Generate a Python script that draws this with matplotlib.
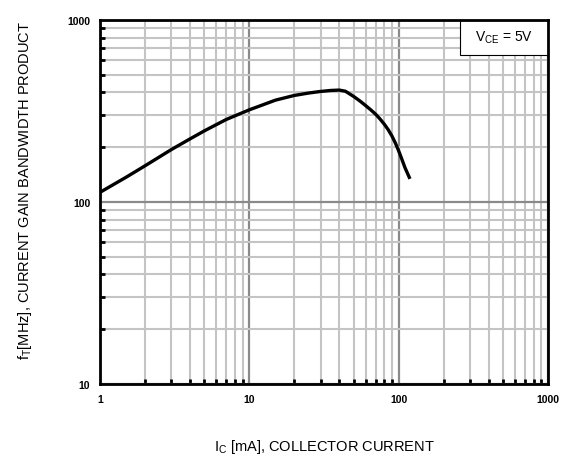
import numpy as np
import matplotlib
matplotlib.use("Agg")
import matplotlib.pyplot as plt
from matplotlib.patches import Rectangle
from matplotlib.ticker import LogLocator, NullFormatter, FixedLocator, FixedFormatter

plt.rcParams['font.family'] = ['Liberation Sans', 'DejaVu Sans']
plt.rcParams['mathtext.fontset'] = 'custom'
plt.rcParams['mathtext.rm'] = 'Liberation Sans'
plt.rcParams['mathtext.it'] = 'Liberation Sans'

# collector current [mA] vs fT [MHz]
ic = [1, 1.5, 2, 3, 4, 5, 7, 10, 15, 20, 25, 30, 35, 40, 44,
      50, 55, 60, 65, 70, 75, 80, 85, 90, 95, 100, 105, 110, 119]
ft = [113, 137, 158, 194, 222, 246, 284, 321, 363, 385, 397, 405, 410, 412, 406,
      380, 359, 339, 321, 304, 286, 268, 250, 231, 211, 191, 172, 155, 134]

xticks = [1, 10, 100, 1000]
yticks = [10, 100, 1000]

fig = plt.figure(figsize=(5.68, 4.6), dpi=100)
ax = fig.add_axes([100 / 568, 1 - 385 / 460, 448 / 568, 364 / 460])

ax.set_xscale('log')
ax.set_yscale('log')
ax.set_xlim(1, 1000)
ax.set_ylim(10, 1000)

ax.plot(ic, ft, color='black', lw=2.4, solid_capstyle='butt',
        solid_joinstyle='round', zorder=4)

ax.xaxis.set_major_locator(FixedLocator(xticks))
ax.yaxis.set_major_locator(FixedLocator(yticks))
ax.xaxis.set_major_formatter(FixedFormatter([str(t) for t in xticks]))
ax.yaxis.set_major_formatter(FixedFormatter([str(t) for t in yticks]))
ax.xaxis.set_minor_locator(LogLocator(base=10, subs=np.arange(2, 10)))
ax.yaxis.set_minor_locator(LogLocator(base=10, subs=np.arange(2, 10)))
ax.xaxis.set_minor_formatter(NullFormatter())
ax.yaxis.set_minor_formatter(NullFormatter())

ax.grid(which='major', color='#8a8a8a', lw=1.6)
ax.grid(which='minor', color='#c4c4c4', lw=1.5)
ax.set_axisbelow(True)

ax.tick_params(which='both', direction='in', color='black', width=2)
ax.tick_params(which='major', length=0, pad=7, labelsize=7.5)
ax.tick_params(which='minor', length=3.5)
for lab in ax.get_xticklabels() + ax.get_yticklabels():
    lab.set_fontweight('bold')

for s in ax.spines.values():
    s.set_linewidth(2)
    s.set_color('black')
    s.set_zorder(6)

# condition box in the upper right corner
ax.add_patch(Rectangle((0.804, 0.905), 0.196, 0.095, transform=ax.transAxes,
                       facecolor='white', edgecolor='black', lw=0.8, zorder=5))
ax.text(0.902, 0.953, r'V$_{\mathrm{CE}}$ = 5V', transform=ax.transAxes,
        ha='center', va='center', fontsize=10, zorder=6)

fig.text(324 / 568, 1 - 447 / 460, r'I$_{\mathrm{C}}$ [mA], COLLECTOR CURRENT',
         ha='center', va='center', fontsize=10.5)
fig.text(25 / 568, 1 - 190 / 460, r'f$_{\mathrm{T}}$[MHz], CURRENT GAIN BANDWIDTH PRODUCT',
         ha='center', va='center', rotation=90, fontsize=10.5)

fig.savefig('out.png', dpi=100)
